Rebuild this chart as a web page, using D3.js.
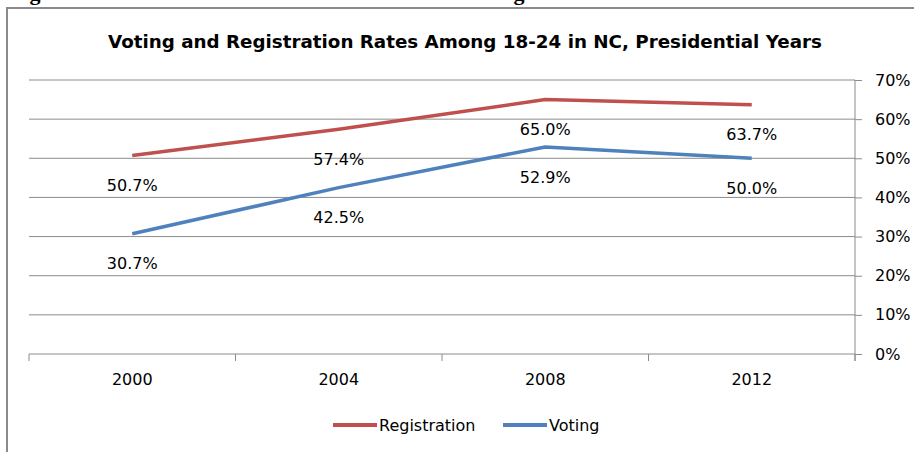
<!DOCTYPE html>
<meta charset="utf-8">
<script src="https://d3js.org/d3.v7.min.js"></script>
<style>
body { margin: 0; background: #fff; }
text { fill: #000; font-family: "DejaVu Sans", Verdana, sans-serif; }
.grid line { stroke: #8c8c8c; stroke-width: 1px; }
</style>
<body>
<script>
// data
var years = ['2000', '2004', '2008', '2012'];
var registration = [0.507, 0.574, 0.650, 0.637];
var voting = [0.307, 0.425, 0.529, 0.500];
var seriesNames = ['Registration', 'Voting'];
var seriesColors = ['#c0504d', '#4f81bd'];
var yTicks = [0, 0.1, 0.2, 0.3, 0.4, 0.5, 0.6, 0.7];

var W = 914, H = 452;
var margin = {top: 80, right: 59, bottom: 98, left: 29};
var w = W - margin.left - margin.right;
var h = H - margin.top - margin.bottom;

var svg = d3.select('body')
    .append('svg')
    .attr('width', W)
    .attr('height', H);

// cut-off caption of the document above the chart
svg.append('text')
    .text('Figure 6: North Carolina 18-24 Turnout and Voter Registration')
    .attr('x', 10)
    .attr('y', 0)
    .style('font-family', '"Liberation Serif", serif')
    .style('font-weight', 'bold')
    .style('font-size', '22px');

// chart frame
svg.append('path')
    .attr('d', 'M7,' + H + 'V8H' + W)
    .attr('fill', 'none')
    .attr('stroke', '#8a8a8a')
    .attr('stroke-width', 2);

svg.append('text')
    .text('Voting and Registration Rates Among 18-24 in NC, Presidential Years')
    .attr('x', 465)
    .attr('y', 42)
    .attr('dy', '0.35em')
    .attr('text-anchor', 'middle')
    .style('font-size', '18.3px')
    .style('font-weight', 'bold');

var g = svg.append('g')
    .attr('transform', 'translate(' + margin.left + ',' + margin.top + ')');

var x = d3.scaleBand().domain(years).range([0, w]);
var y = d3.scaleLinear().domain([0, 0.7]).range([h, 0]);

// horizontal gridlines
g.append('g')
    .attr('class', 'grid')
    .selectAll('line')
    .data(yTicks.slice(1))
    .enter()
    .append('line')
    .attr('x1', 0)
    .attr('x2', w)
    .attr('y1', function(d) { return y(d); })
    .attr('y2', function(d) { return y(d); });

// right value axis
var yAxis = g.append('g')
    .attr('transform', 'translate(' + w + ',0)')
    .call(d3.axisRight(y).tickValues(yTicks).tickFormat(d3.format('.0%')).tickSize(7).tickPadding(13));
yAxis.select('.domain').attr('stroke', '#8c8c8c').attr('d', 'M0,0V' + (h + 7));
yAxis.selectAll('.tick line').attr('stroke', '#8c8c8c');
yAxis.selectAll('.tick text').style('font-size', '16px').attr('font-family', null);

// category axis, ticks between categories
var xAxis = g.append('g')
    .attr('transform', 'translate(0,' + h + ')')
    .call(d3.axisBottom(x).tickSize(0).tickPadding(20));
xAxis.select('.domain').attr('stroke', '#8c8c8c').attr('d', 'M0,0H' + w);
xAxis.selectAll('.tick text').style('font-size', '16px').attr('font-family', null);
xAxis.selectAll('.sep')
    .data(d3.range(years.length + 1))
    .enter()
    .append('line')
    .attr('class', 'sep')
    .attr('x1', function(i) { return i * x.step(); })
    .attr('x2', function(i) { return i * x.step(); })
    .attr('y1', 0)
    .attr('y2', 7)
    .attr('stroke', '#8c8c8c');

var cx = function(d, i) { return x(years[i]) + x.bandwidth() / 2; };
var line = d3.line()
    .x(cx)
    .y(function(d) { return y(d); });

[registration, voting].forEach(function(vals, k) {
    g.append('path')
        .datum(vals)
        .attr('d', line)
        .attr('fill', 'none')
        .attr('stroke', seriesColors[k])
        .attr('stroke-width', 3.5)
        .attr('stroke-linejoin', 'round');

    g.selectAll('.lab' + k)
        .data(vals)
        .enter()
        .append('text')
        .attr('class', 'lab' + k)
        .attr('x', cx)
        .attr('y', function(d) { return y(d) + 30; })
        .attr('dy', '0.35em')
        .attr('text-anchor', 'middle')
        .style('font-size', '16px')
        .text(function(d) { return d3.format('.1%')(d); });
});

// legend
var legendX = [333, 503];
seriesNames.forEach(function(name, k) {
    svg.append('line')
        .attr('x1', legendX[k])
        .attr('x2', legendX[k] + 44)
        .attr('y1', 425)
        .attr('y2', 425)
        .attr('stroke', seriesColors[k])
        .attr('stroke-width', 4);
    svg.append('text')
        .text(name)
        .attr('x', legendX[k] + 46)
        .attr('y', 425)
        .attr('dy', '0.35em')
        .style('font-size', '16px');
});
</script>
</body>
</html>
